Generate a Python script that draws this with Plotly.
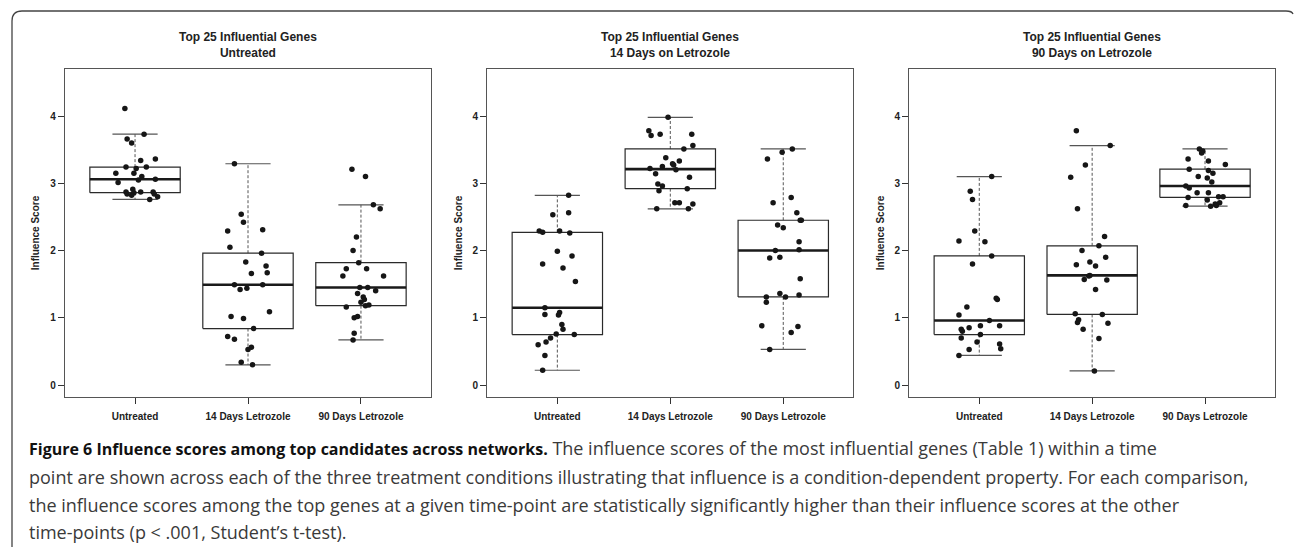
import plotly.graph_objects as go

categories = ["Untreated", "14 Days Letrozole", "90 Days Letrozole"]
panel_titles = ["Top 25 Influential Genes<br>Untreated",
                "Top 25 Influential Genes<br>14 Days on Letrozole",
                "Top 25 Influential Genes<br>90 Days on Letrozole"]
y_ticks = [0, 1, 2, 3, 4]

# ---- Panel 1: top genes of the untreated network ----
p1_untreated = [4.11, 3.73, 3.66, 3.60, 3.34, 3.36, 3.24, 3.22, 3.24, 3.15, 3.15, 3.10, 3.05,
                3.06, 3.01, 2.91, 2.87, 2.87, 2.84, 2.86, 2.82, 2.87, 2.84, 2.80, 2.76]
p1_untreated_jit = [-0.09, 0.08, -0.07, -0.03, 0.05, 0.18, -0.08, 0.01, 0.10, -0.17, -0.01, 0.06, 0.03,
                    0.18, -0.15, -0.02, -0.08, 0.05, -0.07, -0.01, -0.03, 0.16, 0.17, 0.20, 0.13]
p1_day14 = [3.29, 2.54, 2.42, 2.29, 2.31, 2.05, 1.96, 1.83, 1.77, 1.66, 1.67, 1.49, 1.49,
            1.42, 1.44, 1.09, 1.02, 0.99, 0.84, 0.72, 0.68, 0.56, 0.53, 0.34, 0.30]
p1_day14_jit = [-0.12, -0.06, -0.04, -0.18, 0.13, -0.16, 0.12, -0.02, 0.16, 0.03, 0.17, -0.12, 0.13,
                -0.07, -0.01, 0.19, -0.15, -0.04, 0.05, -0.18, -0.12, 0.03, 0.00, -0.06, 0.04]
p1_day90 = [3.21, 3.10, 2.68, 2.62, 2.20, 2.00, 1.82, 1.73, 1.73, 1.62, 1.62, 1.45, 1.45,
            1.40, 1.36, 1.31, 1.27, 1.23, 1.18, 1.19, 1.16, 1.02, 1.00, 0.77, 0.67]
p1_day90_jit = [-0.08, 0.04, 0.11, 0.17, -0.04, -0.07, -0.02, -0.13, 0.05, -0.16, 0.20, -0.01, 0.06,
                0.13, -0.03, 0.02, 0.03, 0.00, 0.04, 0.07, -0.13, -0.03, -0.06, -0.06, -0.07]
p1_q1 = [2.86, 0.84, 1.18]
p1_median = [3.06, 1.49, 1.45]
p1_q3 = [3.24, 1.96, 1.82]
p1_low = [2.76, 0.30, 0.67]
p1_high = [3.73, 3.29, 2.68]

# ---- Panel 2: top genes of the 14-day network ----
p2_untreated = [2.82, 2.53, 2.56, 2.29, 2.27, 2.29, 2.26, 1.99, 1.92, 1.80, 1.74, 1.54, 1.15,
                1.05, 1.08, 1.04, 0.90, 0.83, 0.76, 0.75, 0.70, 0.64, 0.60, 0.44, 0.22]
p2_untreated_jit = [0.10, -0.04, 0.10, -0.16, -0.13, 0.02, 0.11, 0.00, 0.13, -0.13, 0.05, 0.16, -0.11,
                    -0.11, 0.02, 0.01, 0.04, 0.05, -0.01, 0.15, -0.06, -0.10, -0.17, -0.11, -0.13]
p2_day14 = [3.98, 3.78, 3.71, 3.73, 3.73, 3.56, 3.51, 3.38, 3.33, 3.29, 3.27, 3.25, 3.22,
            3.20, 3.14, 3.09, 2.99, 2.96, 2.92, 2.89, 2.71, 2.71, 2.69, 2.62, 2.62]
p2_day14_jit = [-0.02, -0.19, -0.17, -0.09, 0.19, 0.20, 0.12, -0.04, 0.08, 0.02, 0.03, -0.07, -0.18,
                0.05, -0.13, 0.17, -0.11, -0.07, 0.15, -0.10, 0.04, 0.08, 0.20, -0.12, 0.16]
p2_day90 = [3.51, 3.46, 3.36, 2.79, 2.71, 2.56, 2.45, 2.45, 2.38, 2.34, 2.13, 2.00, 2.01,
            1.89, 1.90, 1.58, 1.36, 1.31, 1.31, 1.34, 1.23, 0.88, 0.87, 0.78, 0.53]
p2_day90_jit = [0.08, -0.01, -0.14, 0.07, -0.09, 0.12, 0.15, 0.16, -0.05, 0.00, 0.14, -0.07, 0.14,
                -0.12, -0.03, 0.15, -0.03, -0.15, 0.02, 0.14, -0.15, -0.19, 0.13, 0.07, -0.12]
p2_q1 = [0.75, 2.92, 1.31]
p2_median = [1.15, 3.21, 2.00]
p2_q3 = [2.27, 3.51, 2.45]
p2_low = [0.22, 2.62, 0.53]
p2_high = [2.82, 3.98, 3.51]

# ---- Panel 3: top genes of the 90-day network ----
p3_untreated = [3.10, 2.88, 2.76, 2.29, 2.14, 2.13, 1.92, 1.80, 1.29, 1.27, 1.16, 1.04, 0.96,
                0.88, 0.88, 0.85, 0.83, 0.80, 0.75, 0.70, 0.64, 0.61, 0.54, 0.53, 0.44]
p3_untreated_jit = [0.11, -0.08, -0.06, -0.04, -0.18, 0.05, 0.11, -0.06, 0.15, 0.16, -0.11, -0.18, 0.09,
                    0.01, 0.18, -0.09, -0.16, -0.15, 0.01, -0.16, -0.02, 0.18, 0.19, -0.09, -0.18]
p3_day14 = [3.78, 3.56, 3.27, 3.09, 2.62, 2.21, 2.07, 2.00, 1.90, 1.83, 1.77, 1.79, 1.63,
            1.62, 1.57, 1.56, 1.42, 1.06, 1.05, 0.97, 0.93, 0.92, 0.83, 0.69, 0.21]
p3_day14_jit = [-0.14, 0.16, -0.06, -0.19, -0.13, 0.11, 0.06, -0.09, 0.12, -0.02, 0.03, -0.14, -0.02,
                -0.03, -0.07, 0.13, 0.03, -0.15, 0.09, -0.12, -0.13, 0.14, -0.08, 0.06, 0.02]
p3_day90 = [3.51, 3.48, 3.45, 3.36, 3.33, 3.28, 3.21, 3.19, 3.15, 3.10, 3.08, 3.02, 2.96,
            2.93, 2.86, 2.86, 2.79, 2.80, 2.80, 2.75, 2.71, 2.69, 2.67, 2.67, 2.66]
p3_day90_jit = [-0.05, -0.02, -0.03, -0.15, 0.03, 0.18, -0.14, 0.03, 0.07, -0.06, 0.02, 0.06, -0.17,
                -0.14, -0.07, 0.03, -0.15, 0.12, 0.16, 0.02, 0.13, 0.09, 0.10, -0.17, 0.05]
p3_q1 = [0.75, 1.05, 2.79]
p3_median = [0.96, 1.63, 2.96]
p3_q3 = [1.92, 2.07, 3.21]
p3_low = [0.44, 0.21, 2.66]
p3_high = [3.10, 3.56, 3.51]

caption_bold = "Figure 6 Influence scores among top candidates across networks."
caption_lines = [
    " The influence scores of the most influential genes (Table 1) within a time",
    "point are shown across each of the three treatment conditions illustrating that influence is a condition-dependent property. For each comparison,",
    "the influence scores among the top genes at a given time-point are statistically significantly higher than their influence scores at the other",
    "time-points (p < .001, Student\u2019s t-test).",
]

# ------------------------------------------------------------------
W, H = 1294, 547
panels = [
    dict(vals=[p1_untreated, p1_day14, p1_day90], jit=[p1_untreated_jit, p1_day14_jit, p1_day90_jit],
         q1=p1_q1, med=p1_median, q3=p1_q3, lo=p1_low, hi=p1_high, px=(65, 431)),
    dict(vals=[p2_untreated, p2_day14, p2_day90], jit=[p2_untreated_jit, p2_day14_jit, p2_day90_jit],
         q1=p2_q1, med=p2_median, q3=p2_q3, lo=p2_low, hi=p2_high, px=(487.3, 853.3)),
    dict(vals=[p3_untreated, p3_day14, p3_day90], jit=[p3_untreated_jit, p3_day14_jit, p3_day90_jit],
         q1=p3_q1, med=p3_median, q3=p3_q3, lo=p3_low, hi=p3_high, px=(909.3, 1275)),
]
plot_top, plot_bottom = 69, 397

BOX_HALF = 0.4
CAP_HALF = 0.2
box_col = "#2a2a2a"
wh_col = "#555555"
frame_col = "#555555"
tick_font = dict(family="Liberation Sans, Arial, sans-serif", size=10, color="#222222")

fig = go.Figure()
layout = dict(width=W, height=H, margin=dict(l=0, r=0, t=0, b=0),
              paper_bgcolor="white", plot_bgcolor="white", showlegend=False)
annotations = []
for k, pan in enumerate(panels):
    sfx = "" if k == 0 else str(k + 1)
    xa, ya = "x" + sfx, "y" + sfx
    positions = [1, 2, 3]
    for i, p in enumerate(positions):
        q1, med, q3, lo, hi = pan["q1"][i], pan["med"][i], pan["q3"][i], pan["lo"][i], pan["hi"][i]
        # whiskers (dashed)
        fig.add_trace(go.Scatter(x=[p, p, None, p, p], y=[q3, hi, None, q1, lo], mode="lines",
                                 line=dict(color=wh_col, width=1, dash="3px,2px"),
                                 xaxis=xa, yaxis=ya, hoverinfo="skip"))
        # staples
        fig.add_trace(go.Scatter(x=[p - CAP_HALF, p + CAP_HALF, None, p - CAP_HALF, p + CAP_HALF],
                                 y=[hi, hi, None, lo, lo], mode="lines",
                                 line=dict(color=wh_col, width=1.2), xaxis=xa, yaxis=ya, hoverinfo="skip"))
        # box
        fig.add_trace(go.Scatter(x=[p - BOX_HALF, p + BOX_HALF, p + BOX_HALF, p - BOX_HALF, p - BOX_HALF],
                                 y=[q1, q1, q3, q3, q1], mode="lines", fill="toself", fillcolor="white",
                                 line=dict(color=box_col, width=1.2), xaxis=xa, yaxis=ya, hoverinfo="skip"))
        # median
        fig.add_trace(go.Scatter(x=[p - BOX_HALF, p + BOX_HALF], y=[med, med], mode="lines",
                                 line=dict(color="#1a1a1a", width=2.6), xaxis=xa, yaxis=ya, hoverinfo="skip"))
    for i, p in enumerate(positions):
        fig.add_trace(go.Scatter(x=[p + j for j in pan["jit"][i]], y=pan["vals"][i], mode="markers",
                                 marker=dict(color="#161616", size=5.5, line=dict(width=0)),
                                 xaxis=xa, yaxis=ya, name=categories[i]))
    x0, x1 = pan["px"]
    dom_x = [x0 / W, x1 / W]
    dom_y = [1 - plot_bottom / H, 1 - plot_top / H]
    layout["xaxis" + sfx] = dict(domain=dom_x, range=[0.38, 3.62], anchor=ya,
                                 tickmode="array", tickvals=positions, ticktext=["<b>%s</b>" % c for c in categories],
                                 ticks="outside", ticklen=6, tickcolor="#333333", tickwidth=1,
                                 ticklabelstandoff=4,
                                 showline=True, linecolor=frame_col, linewidth=1.3, mirror=True,
                                 showgrid=False, zeroline=False, tickfont=tick_font, fixedrange=True)
    layout["yaxis" + sfx] = dict(domain=dom_y, range=[-0.178, 4.699], anchor=xa,
                                 tickmode="array", tickvals=y_ticks, ticktext=["<b>%d</b>" % t for t in y_ticks],
                                 ticks="outside", ticklen=6, tickcolor="#333333", tickwidth=1,
                                 showline=True, linecolor=frame_col, linewidth=1.3, mirror=True,
                                 showgrid=False, zeroline=False, tickfont=tick_font, fixedrange=True,
                                 title=dict(text="<b>Influence Score</b>", font=tick_font, standoff=8))
    annotations.append(dict(text="<b>%s</b>" % panel_titles[k], xref="paper", yref="paper",
                            x=(dom_x[0] + dom_x[1]) / 2, y=1 - 44.5 / H, xanchor="center", yanchor="middle",
                            showarrow=False, font=dict(family="Liberation Sans, Arial, sans-serif", size=12,
                                                       color="#222222")))

cap_font = dict(family="Open Sans, Noto Sans, sans-serif", size=18, color="#3a3a3a")
cap_y = [448, 477, 505, 532]
cap_texts = ['<span style="font-size:16px;font-weight:bold;color:#111111">%s</span>%s'
             % (caption_bold, caption_lines[0])] + caption_lines[1:]
for line, yy in zip(cap_texts, cap_y):
    annotations.append(dict(text=line, xref="paper", yref="paper", x=27 / W, y=1 - yy / H,
                            xanchor="left", yanchor="middle", showarrow=False, font=cap_font, align="left"))

layout["annotations"] = annotations
layout["shapes"] = [dict(type="path", xref="paper", yref="paper",
                         path="M %f,0 L %f,%f Q %f,%f %f,%f L %f,%f Q %f,%f %f,%f" % (
                             12 / W, 12 / W, 1 - 21 / H, 12 / W, 1 - 11 / H, 22 / W, 1 - 11 / H,
                             1286 / W, 1 - 11 / H, 1292 / W, 1 - 11 / H, 1293 / W, 1 - 14 / H),
                         line=dict(color="#444444", width=1.3))]
fig.update_layout(**layout)
fig.write_html("out.html", config={"displayModeBar": False},
               post_script="document.body.style.margin='0';")
